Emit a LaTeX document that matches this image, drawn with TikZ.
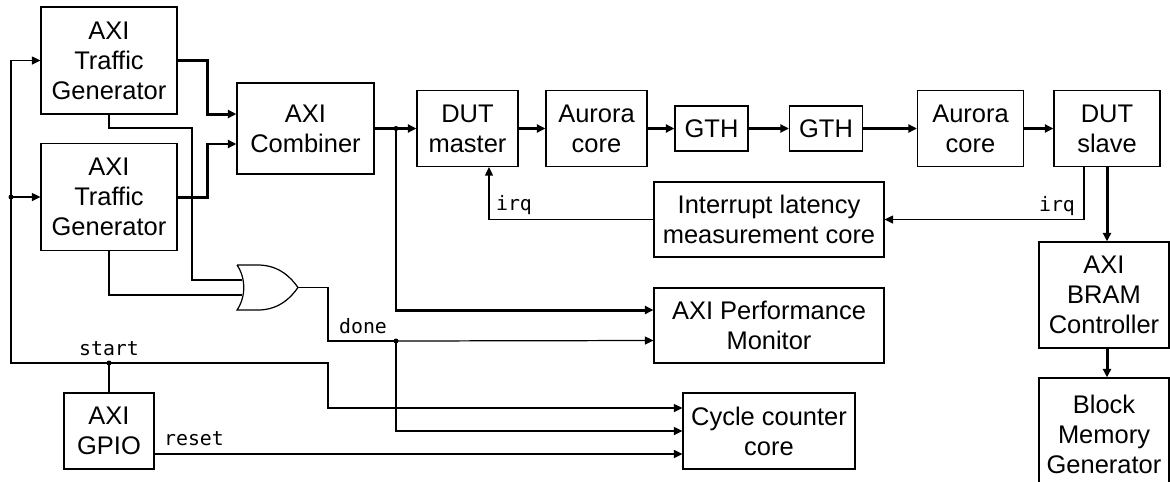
\documentclass[tikz,border=0pt]{standalone}
\usepackage{fontspec}
\setmainfont{Liberation Sans}
\setmonofont{DejaVu Sans Mono}
\usetikzlibrary{arrows.meta}
\begin{document}
\begin{tikzpicture}[x=0.02cm, y=-0.02cm,
  >={Triangle[length=0.17cm,width=0.16cm]},
  box/.style={draw, line width=0.7pt, align=center, inner sep=2pt,
    font=\fontsize{14.5}{17}\selectfont},
  wire/.style={line width=0.7pt},
  bus/.style={line width=1.7pt},
  lbl/.style={font=\ttfamily\fontsize{11.3}{13}\selectfont, inner sep=1pt},
  dot/.style={fill, circle, inner sep=0pt, minimum size=0.1cm}]
  \useasboundingbox (0,0) rectangle (1170,481);
  % traffic generators and combiner
  \node[box, minimum width=2.72cm, minimum height=2.14cm] (tg1) at (109,60.5) {AXI\\Traffic\\Generator};
  \node[box, minimum width=2.72cm, minimum height=2.14cm] (tg2) at (109,197) {AXI\\Traffic\\Generator};
  \node[box, minimum width=2.74cm, minimum height=1.82cm] (comb) at (305.5,128.5) {AXI\\Combiner};
  % link chain
  \node[box, minimum width=2.02cm, minimum height=1.52cm] (dutm) at (467.5,128.5) {DUT\\master};
  \node[box, minimum width=2.02cm, minimum height=1.52cm] (aur1) at (596.5,128.5) {Aurora\\core};
  \node[box, minimum width=1.46cm, minimum height=0.9cm] (gth1) at (711.5,128.5) {GTH};
  \node[box, minimum width=1.46cm, minimum height=0.9cm] (gth2) at (826,128.5) {GTH};
  \node[box, minimum width=2.12cm, minimum height=1.52cm] (aur2) at (970.5,128.5) {Aurora\\core};
  \node[box, minimum width=2.12cm, minimum height=1.52cm] (duts) at (1107,128.5) {DUT\\slave};
  % monitors and memory
  \node[box, minimum width=4.6cm, minimum height=1.5cm] (ilm) at (769,219.5) {Interrupt latency\\measurement core};
  \node[box, minimum width=4.6cm, minimum height=1.5cm] (apm) at (769,325.5) {AXI Performance\\Monitor};
  \node[box, minimum width=3.44cm, minimum height=1.52cm] (ccc) at (769,431) {Cycle counter\\core};
  \node[box, minimum width=1.8cm, minimum height=1.52cm] (gpio) at (109,431) {AXI\\GPIO};
  \node[box, minimum width=2.6cm, minimum height=2.12cm] (bram) at (1104,295) {AXI\\BRAM\\Controller};
  \node[box, minimum width=2.6cm, minimum height=2.26cm] (bmg) at (1104,434.5) {Block\\Memory\\Generator};
  % or gate
  \draw[wire] (237,265) -- (258,265) .. controls (280,265) and (292,279) .. (298,287.5)
    .. controls (292,296) and (280,310) .. (258,310) -- (237,310)
    .. controls (246,297) and (246,278) .. (237,265);
  \coordinate (orin1) at (242,280);
  \coordinate (orin2) at (242,295);
  \coordinate (orout) at (298,287.5);
  % junctions
  \coordinate (cj) at (396,128.5);
  \coordinate (dj) at (396,341);
  \coordinate (sj) at (11,197);
  \coordinate (st) at (109,363);
  \node[dot] (cjd) at (cj) {};
  \node[dot] (djd) at (dj) {};
  \node[dot] (sjd) at (sj) {};
  \node[dot] (std) at (st) {};
  % buses
  \draw[bus,->] (tg1.east) -- ++(30,0) |- ([yshift=0.29cm]comb.west);
  \draw[bus,->] (tg2.east) -- ++(30,0) |- ([yshift=-0.31cm]comb.west);
  \draw[bus,->] (comb.east) -- (dutm.west);
  \draw[bus,->] (cj) |- ([yshift=0.31cm]apm.west);
  \draw[bus,->] (dutm) -- (aur1);
  \draw[bus,->] (aur1) -- (gth1);
  \draw[bus,->] (gth1) -- (gth2);
  \draw[bus,->] (gth2) -- (aur2);
  \draw[bus,->] (aur2) -- (duts);
  \draw[bus,->] (duts.south) -- (duts.south |- bram.north);
  \draw[bus,->] (bram.south -| duts.south) -- (bmg.north -| duts.south);
  % irq
  \draw[wire,->] ([xshift=-0.46cm]duts.south) |- (ilm.east);
  \draw[wire,->] (ilm.west) -| ([xshift=0.43cm]dutm.south);
  \node[lbl] (irqs) at (1057,206) {irq};
  \node[lbl] (irqm) at (514,205) {irq};
  % done
  \draw[wire] (tg1.south) |- (192,128) |- (orin1);
  \draw[wire] (tg2.south) |- (orin2);
  \draw[wire] (orout) -- ++(30,0) |- (dj);
  \draw[wire,->] (dj) -- ([yshift=-0.3cm]apm.west);
  \draw[wire,->] (dj) |- (ccc.west);
  \node[lbl] (done) at (363,326) {done};
  % start and reset
  \draw[wire] (gpio.north) -- (st);
  \draw[wire,->] (st) -| (sj) |- (tg1.west);
  \draw[wire,->] (sj) -- (tg2.west);
  \draw[wire,->] (st) -- (328,363) |- ([yshift=0.46cm]ccc.west);
  \draw[wire,->] ([yshift=-0.46cm]gpio.east) -- ([yshift=-0.46cm]ccc.west);
  \node[lbl] (start) at (109,349) {start};
  \node[lbl] (reset) at (194,439) {reset};
\end{tikzpicture}
\end{document}
